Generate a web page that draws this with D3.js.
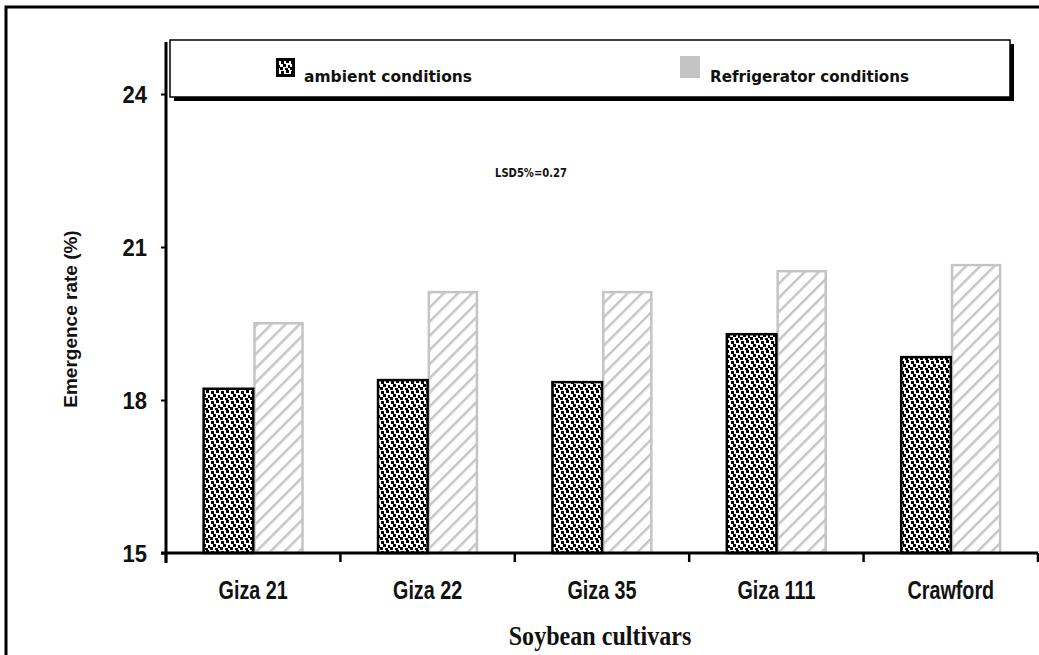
<!DOCTYPE html>
<html><head><meta charset="utf-8">
<script src="https://cdn.jsdelivr.net/npm/d3@7"></script>
<style>html,body{margin:0;padding:0;background:#fff;}svg{display:block;}</style>
</head><body>
<script>
const categories = ["Giza 21", "Giza 22", "Giza 35", "Giza 111", "Crawford"];
const ambient = [18.24, 18.41, 18.37, 19.31, 18.86];
const refrigerator = [19.53, 20.14, 20.14, 20.55, 20.67];
const seriesNames = ["ambient conditions", "Refrigerator conditions"];
const yTicks = [15, 18, 21, 24];
const lsdText = "LSD5%=0.27";
const xTitle = "Soybean cultivars";
const yTitle = "Emergence rate (%)";

const W = 1039, H = 655;
const svg = d3.select("body").append("svg").attr("width", W).attr("height", H);
const defs = svg.append("defs");

// stipple pattern
const st = defs.append("pattern").attr("id","stip").attr("patternUnits","userSpaceOnUse")
  .attr("width",10).attr("height",10);
st.append("rect").attr("width",10).attr("height",10).attr("fill","#fff");
[[1,1],[6,0],[3,4],[8,5],[0,7],[5,8]].forEach(p=>{
  st.append("rect").attr("x",p[0]).attr("y",p[1]).attr("width",3).attr("height",3).attr("fill","#000");
});
// hatch pattern
const ht = defs.append("pattern").attr("id","hatch").attr("patternUnits","userSpaceOnUse")
  .attr("width",10).attr("height",10).attr("patternTransform","rotate(45)");
ht.append("rect").attr("width",10).attr("height",10).attr("fill","#fff");
ht.append("line").attr("x1",0).attr("y1",0).attr("x2",0).attr("y2",10)
  .attr("stroke","#c6c6c6").attr("stroke-width",5);

// outer frame
svg.append("path").attr("d",`M6,${H} L6,7 L${W},7`).attr("fill","none")
  .attr("stroke","#000").attr("stroke-width",3);

const x0 = 166, x1 = 1038, yTop = 42;
const y = d3.scaleLinear().domain([15,24]).range([553,94]);
const x = d3.scaleBand().domain(categories).range([x0,x1]).paddingInner(0).paddingOuter(0);
const bw = x.bandwidth()*0.29;

// bars
const g = svg.append("g");
categories.forEach((c,i)=>{
  const cx = x(c) + x.bandwidth()/2;
  g.append("rect").attr("x",cx+1.25).attr("y",y(refrigerator[i])+1.25)
   .attr("width",bw-2.5).attr("height",y(15)-y(refrigerator[i])-1.25)
   .attr("fill","url(#hatch)").attr("stroke","#c4c4c4").attr("stroke-width",2.5);
  g.append("rect").attr("x",cx-bw+1).attr("y",y(ambient[i])+1)
   .attr("width",bw-1).attr("height",y(15)-y(ambient[i])-1)
   .attr("fill","url(#stip)").attr("stroke","#000").attr("stroke-width",2.5);
});

// y axis
const yAxis = d3.axisLeft(y).tickValues(yTicks).tickSize(5).tickPadding(0).tickFormat(d3.format("d"));
const ya = svg.append("g").attr("transform",`translate(${x0},0)`).call(yAxis);
ya.select(".domain").remove();
ya.selectAll(".tick line").attr("stroke","#000").attr("stroke-width",2);
ya.selectAll(".tick text").attr("x",null).attr("dy",null)
  .attr("transform","translate(-19,8) scale(0.92,1)")
  .attr("font-family","'Liberation Sans',Arial,sans-serif")
  .attr("font-weight","bold").attr("font-size",24).attr("fill","#111");
svg.append("line").attr("x1",x0).attr("x2",x0).attr("y1",yTop).attr("y2",563)
  .attr("stroke","#000").attr("stroke-width",3);

// x axis
const xTickScale = d3.scaleLinear().domain([0,categories.length]).range([x0,x1]);
const xa = svg.append("g").attr("transform","translate(0,553)");
xa.append("line").attr("x1",161).attr("x2",x1).attr("stroke","#000").attr("stroke-width",3);
d3.range(categories.length+1).forEach(k=>{
  xa.append("line").attr("x1",xTickScale(k)).attr("x2",xTickScale(k)).attr("y1",0).attr("y2",9)
    .attr("stroke","#000").attr("stroke-width",2.5);
});
categories.forEach(c=>{
  const cx = x(c)+x.bandwidth()/2;
  xa.append("text").attr("transform",`translate(${cx},46) scale(0.76,1)`)
    .attr("text-anchor","middle").attr("font-family","'Liberation Sans',Arial,sans-serif")
    .attr("font-weight","bold").attr("font-size",26).attr("fill","#111").text(c);
});

// titles
svg.append("text").attr("transform","translate(600,645) scale(0.86,1)").attr("text-anchor","middle")
  .attr("font-family","'Liberation Serif','Times New Roman',serif").attr("font-weight","bold")
  .attr("font-size",28).attr("fill","#111").text(xTitle);
svg.append("text").attr("transform","translate(77,319) rotate(-90)").attr("text-anchor","middle")
  .attr("font-family","'Liberation Sans',Arial,sans-serif").attr("font-weight","bold")
  .attr("font-size",19).attr("fill","#111").text(yTitle);

// LSD
svg.append("text").attr("x",495).attr("y",177).attr("font-family","'DejaVu Sans',sans-serif")
  .attr("font-weight","bold").attr("font-size",13).attr("textLength",72).attr("lengthAdjust","spacingAndGlyphs")
  .attr("fill","#111").text(lsdText);

// legend
const lg = svg.append("g");
lg.append("rect").attr("x",174).attr("y",44).attr("width",840).attr("height",57).attr("fill","#000");
lg.append("rect").attr("x",170).attr("y",40).attr("width",840).attr("height",57)
  .attr("fill","#fff").attr("stroke","#000").attr("stroke-width",1.5);
lg.append("rect").attr("x",276).attr("y",58).attr("width",19).attr("height",19).attr("fill","#000");
lg.append("rect").attr("x",279).attr("y",61).attr("width",13).attr("height",13).attr("fill","url(#stip)");
lg.append("text").attr("x",304).attr("y",82).attr("font-family","'DejaVu Sans',sans-serif")
  .attr("font-weight","bold").attr("font-size",15).attr("textLength",168).attr("lengthAdjust","spacingAndGlyphs")
  .attr("fill","#111").text(seriesNames[0]);
lg.append("rect").attr("x",680).attr("y",56).attr("width",20).attr("height",22).attr("fill","#c4c4c4");
lg.append("text").attr("x",710).attr("y",82).attr("font-family","'DejaVu Sans',sans-serif")
  .attr("font-weight","bold").attr("font-size",15).attr("textLength",199).attr("lengthAdjust","spacingAndGlyphs")
  .attr("fill","#111").text(seriesNames[1]);
</script>
</body></html>
